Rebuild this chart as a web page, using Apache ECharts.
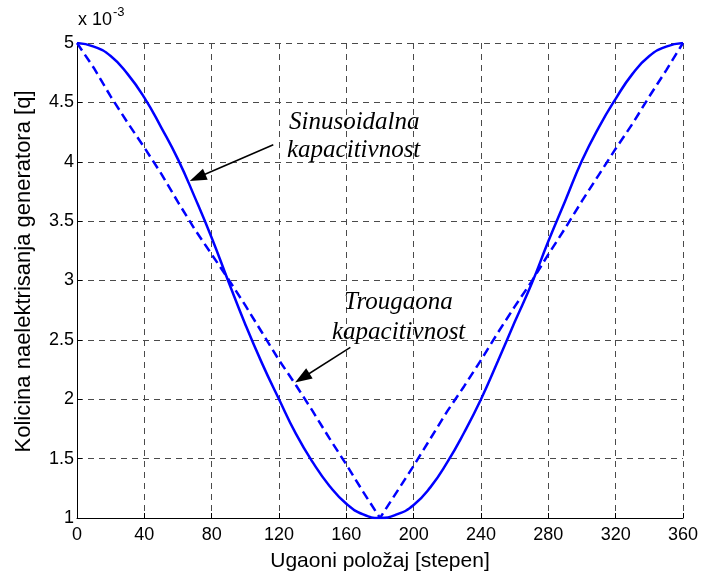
<!DOCTYPE html>
<html>
<head>
<meta charset="utf-8">
<script src="https://cdn.jsdelivr.net/npm/echarts@6/dist/echarts.min.js"></script>
<style>
  html, body { margin: 0; padding: 0; background: #fff; }
  #chart { width: 704px; height: 577px; }
</style>
</head>
<body>
<div id="chart"></div>
<script>
// Angle of the generator rotor, degrees
const angles = [0, 10, 20, 30, 40, 50, 60, 70, 80, 90, 100, 110, 120, 130, 140, 150, 160, 170, 180,
                190, 200, 210, 220, 230, 240, 250, 260, 270, 280, 290, 300, 310, 320, 330, 340, 350, 360];

// Generated charge (x 10^-3 q) for the sinusoidal capacitance
const sinusCharge = [5.00, 4.97, 4.89, 4.74, 4.54, 4.29, 4.02, 3.70, 3.36, 2.99, 2.63, 2.30, 2.00, 1.71, 1.47, 1.27, 1.12, 1.03, 1.00,
                     1.03, 1.11, 1.26, 1.47, 1.72, 2.00, 2.32, 2.65, 2.97, 3.33, 3.67, 4.01, 4.29, 4.53, 4.74, 4.89, 4.97, 5.00];

// Generated charge (x 10^-3 q) for the triangular capacitance
const triangleCharge = [5.00, 4.79, 4.55, 4.33, 4.12, 3.90, 3.66, 3.43, 3.22, 3.01, 2.79, 2.56, 2.33, 2.12, 1.90, 1.67, 1.45, 1.22, 1.00,
                        1.22, 1.44, 1.67, 1.90, 2.11, 2.33, 2.56, 2.78, 2.99, 3.22, 3.44, 3.67, 3.89, 4.11, 4.32, 4.55, 4.77, 5.00];

// Axis ticks
const xTicks = { min: 0, max: 360, step: 40 };
const yTicks = { min: 1, max: 5, step: 0.5 };

// Annotation arrows: [from, to] in data units
const sinusArrow = [[116.6, 4.143], [71.6, 3.867]];
const triangleArrow = [[162.4, 2.437], [133.8, 2.179]];

const toPairs = (xs, ys) => xs.map((x, i) => [x, ys[i]]);

const gridLine = { show: true, lineStyle: { color: '#4a4a4a', width: 1, type: [6, 5] } };
const axisLine = { show: true, onZero: false, lineStyle: { color: '#000', width: 1 } };
const axisTick = { show: true, inside: true, length: 5, lineStyle: { color: '#000' } };
const labelFont = { color: '#000', fontFamily: 'Liberation Sans, Arial, sans-serif', fontSize: 18 };
const annotFont = 'italic 25px "Liberation Serif", "Times New Roman", serif';

const arrowLine = (pts) => [
  { coord: pts[0], symbol: 'none' },
  { coord: pts[1], symbol: 'triangle', symbolSize: [12, 17] }
];

const chart = echarts.init(document.getElementById('chart'), null, { renderer: 'canvas' });

chart.setOption({
  animation: false,
  backgroundColor: '#fff',
  grid: { left: 77, right: 21, top: 43, bottom: 58, containLabel: false },
  xAxis: {
    type: 'value',
    min: xTicks.min, max: xTicks.max, interval: xTicks.step,
    name: 'Ugaoni položaj [stepen]',
    nameLocation: 'middle',
    nameGap: 33,
    nameTextStyle: { color: '#000', fontFamily: 'Liberation Sans, Arial, sans-serif', fontSize: 21 },
    axisLine: axisLine,
    axisTick: axisTick,
    axisLabel: Object.assign({ margin: 8 }, labelFont),
    splitLine: gridLine
  },
  yAxis: {
    type: 'value',
    min: yTicks.min, max: yTicks.max, interval: yTicks.step,
    name: 'Kolicina naelektrisanja generatora [q]',
    nameLocation: 'middle',
    nameGap: 42,
    nameRotate: 90,
    nameTextStyle: { color: '#000', fontFamily: 'Liberation Sans, Arial, sans-serif', fontSize: 22, padding: [0, 0, 0, 18] },
    axisLine: axisLine,
    axisTick: axisTick,
    axisLabel: Object.assign({ margin: 3 }, labelFont),
    splitLine: gridLine
  },
  graphic: [
    {
      type: 'text', left: 78, top: 6, z: 10,
      style: {
        text: '{b|x 10}{s|-3}',
        rich: {
          b: { fontFamily: 'Liberation Sans, Arial, sans-serif', fontSize: 18, fill: '#000', padding: [10, 0, 0, 0] },
          s: { fontFamily: 'Liberation Sans, Arial, sans-serif', fontSize: 13, fill: '#000', padding: [0, 0, 6, 1] }
        }
      }
    },
    { type: 'text', left: 289, top: 110, z: 10, style: { text: 'Sinusoidalna', font: annotFont, fill: '#000' } },
    { type: 'text', left: 287, top: 138, z: 10, style: { text: 'kapacitivnost', font: annotFont, fill: '#000' } },
    { type: 'text', left: 344, top: 290, z: 10, style: { text: 'Trougaona', font: annotFont, fill: '#000' } },
    { type: 'text', left: 332, top: 320, z: 10, style: { text: 'kapacitivnost', font: annotFont, fill: '#000' } }
  ],
  series: [
    {
      name: 'Sinusoidalna kapacitivnost',
      type: 'line',
      data: toPairs(angles, sinusCharge),
      smooth: true,
      showSymbol: false,
      lineStyle: { color: '#0000ff', width: 2.5 },
      z: 3,
      markLine: {
        silent: true,
        animation: false,
        label: { show: false },
        lineStyle: { color: '#000', width: 1.5, type: 'solid' },
        data: [arrowLine(sinusArrow), arrowLine(triangleArrow)]
      }
    },
    {
      name: 'Trougaona kapacitivnost',
      type: 'line',
      data: toPairs(angles, triangleCharge),
      showSymbol: false,
      lineStyle: { color: '#0000ff', width: 2.5, type: [9, 5] },
      z: 3
    }
  ]
});
</script>
</body>
</html>
